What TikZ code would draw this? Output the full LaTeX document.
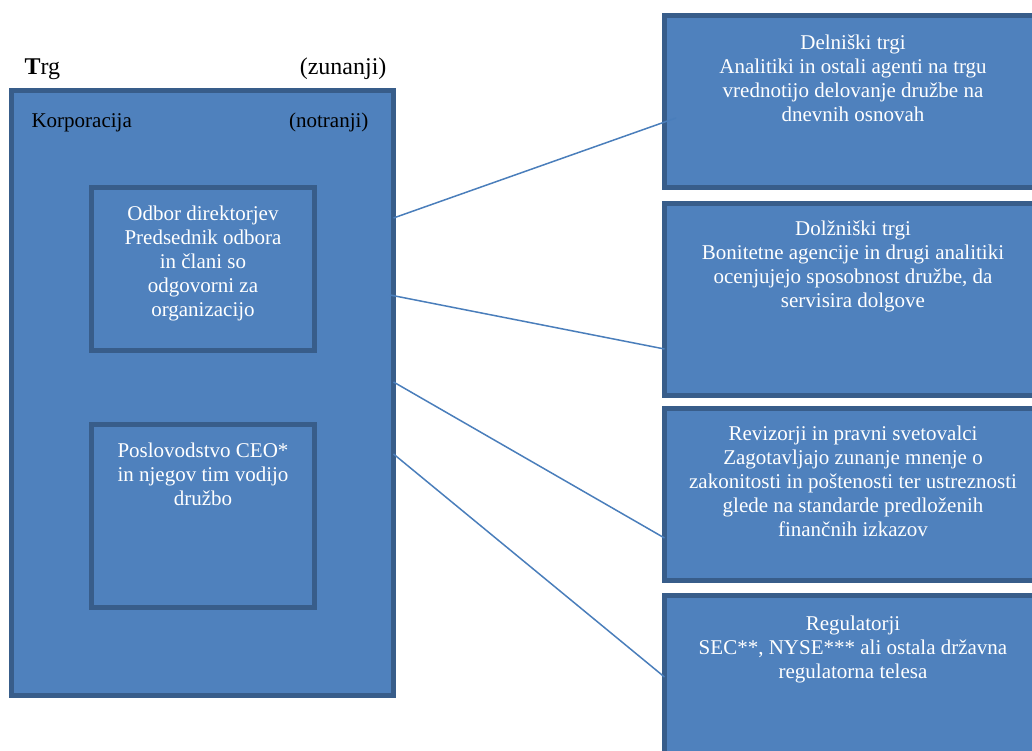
\documentclass[tikz,border=0pt]{standalone}
\usepackage{fontspec}
\setmainfont{Liberation Serif}
\usetikzlibrary{positioning}
\definecolor{boxfill}{HTML}{4F81BD}
\definecolor{boxline}{HTML}{385D8A}
\definecolor{linkline}{HTML}{4A7EBB}

\begin{document}
\begin{tikzpicture}[x=1pt,y=-1pt]
\tikzstyle{every node}=[font=\fontsize{21}{24}\selectfont]
\tikzstyle{panel}=[draw=boxline, fill=boxfill, line width=5pt, rectangle, inner sep=0pt, outer sep=0pt, anchor=north west]
\tikzstyle{paneltext}=[text=white, align=center, inner sep=0pt]
\tikzstyle{link}=[draw=linkline, line width=1.5pt]
\tikzstyle{biglabel}=[font=\fontsize{24}{28}\selectfont]

\useasboundingbox (0,0) rectangle (1032,751);
\clip (0,0) rectangle (1032,751);

% trg (zunanji)
\node[biglabel, anchor=base west] (trg) at (21,75) {\textbf{T}rg};
\node[biglabel, anchor=base east] (zunanji) at (390,75) {(zunanji)};

% korporacija (notranji)
\node[panel, minimum width=382pt, minimum height=605pt] (korp) at (11.5,90.5) {};
\node[anchor=base west] (korplabel) at (28,128) {Korporacija};
\node[anchor=base east] (notranji) at (372,128) {(notranji)};

\node[panel, minimum width=223pt, minimum height=163pt] (odbor) at (91.5,187.5) {};
\node[paneltext, below=18pt of odbor.north] (odbortext) {Odbor direktorjev\\Predsednik odbora\\in člani so\\odgovorni za\\organizacijo};

\node[panel, minimum width=223pt, minimum height=183pt] (poslov) at (91.5,424.5) {};
\node[paneltext, below=18pt of poslov.north] (poslovtext) {Poslovodstvo CEO*\\in njegov tim vodijo\\družbo};

% zunanji akterji
\node[panel, minimum width=377pt, minimum height=172pt] (delnice) at (664.5,15.5) {};
\node[paneltext, below=19pt of delnice.north] (delnicetext) {Delniški trgi\\Analitiki in ostali agenti na trgu\\vrednotijo delovanje družbe na\\dnevnih osnovah};

\node[panel, minimum width=377pt, minimum height=192pt] (dolg) at (664.5,203.5) {};
\node[paneltext, below=17pt of dolg.north] (dolgtext) {Dolžniški trgi\\Bonitetne agencije in drugi analitiki\\ocenjujejo sposobnost družbe, da\\servisira dolgove};

\node[panel, minimum width=377pt, minimum height=172pt] (revizija) at (664.5,408.5) {};
\node[paneltext, below=17pt of revizija.north] (revizijatext) {Revizorji in pravni svetovalci\\Zagotavljajo zunanje mnenje o\\zakonitosti in poštenosti ter ustreznosti\\glede na standarde predloženih\\finančnih izkazov};

\node[panel, minimum width=377pt, minimum height=200pt] (regul) at (664.5,595.5) {};
\node[paneltext, below=20pt of regul.north] (regultext) {Regulatorji\\SEC**, NYSE*** ali ostala državna\\regulatorna telesa};

% povezave
\draw[link] ([yshift=-127.5pt]korp.north east) -- ([xshift=11.5pt,yshift=-102.5pt]delnice.north west);
\draw[link] ([xshift=-3.5pt,yshift=-204.5pt]korp.north east) -- ([yshift=-145.5pt]dolg.north west);
\draw[link] ([yshift=-291.5pt]korp.north east) -- ([yshift=-129.5pt]revizija.north west);
\draw[link] ([yshift=-363.5pt]korp.north east) -- ([yshift=-81.5pt]regul.north west);
\end{tikzpicture}
\end{document}
